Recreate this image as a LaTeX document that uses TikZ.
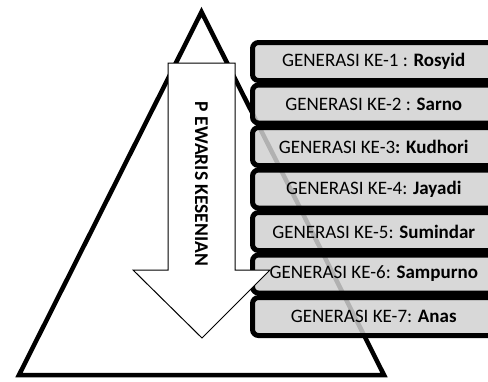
\documentclass[tikz,border=0pt]{standalone}
\usepackage{fontspec}
\setmainfont{Carlito}
\usetikzlibrary{positioning,calc}
\tikzset{genbox/.style={draw=black,line width=5pt,rounded corners=6pt,fill=black!18,fill opacity=0.85,text opacity=1,
    minimum width=242.5pt,minimum height=38pt,inner sep=0pt,font=\fontsize{19}{21}\selectfont}}
\newcommand\genrow[3]{%
    \node[genbox] (#1) at (373.75,#2) {#3}}

\begin{document}
\begin{tikzpicture}[x=1pt,y=-1pt]
            \useasboundingbox (0,0) rectangle (488,381);
            \clip (0,0) rectangle (488,381);
            \draw[line width=4.5pt,fill=white] (201.5,12) -- (384,375) -- (19,375) -- cycle;
            \genrow{gen1}{61.5}{GENERASI KE-1 : \textbf{Rosyid}};
            \genrow{gen2}{104}{GENERASI KE-2 : \textbf{Sarno}};
            \genrow{gen3}{146.5}{GENERASI KE-3\textbf{: Kudhori}};
            \genrow{gen4}{189}{GENERASI KE-4: \textbf{Jayadi}};
            \genrow{gen5}{231.5}{GENERASI KE-5: \textbf{Sumindar}};
            \genrow{gen6}{274}{GENERASI KE-6: \textbf{Sampurno}};
            \genrow{gen7}{316.5}{GENERASI KE-7: \textbf{Anas}};
            \draw[line width=1pt,fill=white] (168,63) -- (235,63) -- (235,270) -- (270,270) -- (202,338)
                -- (133,270) -- (168,270) -- cycle;
            \node[rotate=-90,font=\bfseries\fontsize{19.5}{21}\selectfont] (pewaris) at (201.5,184) {P EWARIS KESENIAN};
        \end{tikzpicture}
\end{document}
